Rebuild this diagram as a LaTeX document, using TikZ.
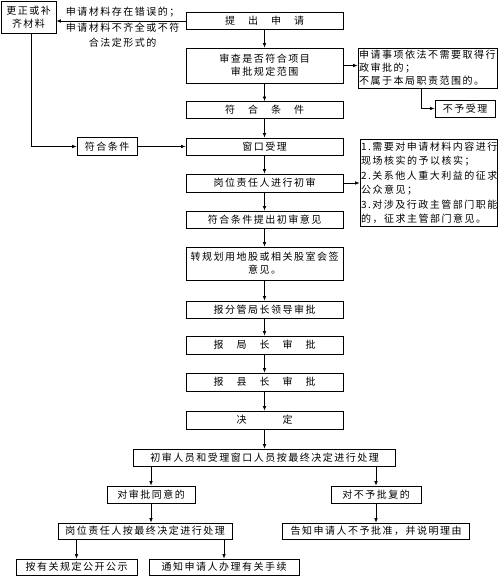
\documentclass[tikz,border=0pt]{standalone}
\usepackage{fontspec}
\usepackage{tikz}
\usetikzlibrary{arrows.meta}
\newfontfamily\cjk[LetterSpace=15]{Noto Sans CJK SC}

\begin{document}
\begin{tikzpicture}[x=1pt,y=-1pt,line width=.7pt,font=\cjk\fontsize{10}{13}\selectfont,
  box/.style={draw,inner sep=1pt,align=center},
  stage/.style={box,minimum width=157pt,minimum height=17pt},
  note/.style={draw,inner ysep=1pt,inner xsep=1pt,align=left},
  arr/.style={-{Latex[length=4.5pt,width=3.5pt]}}]
\useasboundingbox (0,0) rectangle (500,580);
\node[stage] (submit) at (264.5,21) {提　出　申　请};
\node[stage,minimum height=35pt] (review) at (264.5,65.5) {审查是否符合项目\\审批规定范围};
\node[stage] (meet) at (264.5,110) {符　合　条　件};
\node[stage] (window) at (264.5,146.5) {窗口受理};
\node[stage,minimum height=18pt] (firstrev) at (264.5,183) {岗位责任人进行初审};
\node[stage] (opinion) at (264.5,219.5) {符合条件提出初审意见};
\node[stage,minimum height=33pt] (cosign) at (264.5,263.5) {转规划用地股或相关股室会签\\意见。};
\node[stage] (deputy) at (264.5,309.5) {报分管局长领导审批};
\node[stage,minimum height=18pt] (director) at (264.5,345) {报　局　长　审　批};
\node[stage,minimum height=18pt] (county) at (264.5,382) {报　县　长　审　批};
\node[stage,minimum height=18pt] (decide) at (264.5,420) {决　　　定};
\node[box,minimum width=262pt,minimum height=17pt] (handle) at (264.5,457.5) {初审人员和受理窗口人员按最终决定进行处理};
\node[box,minimum width=88pt,minimum height=17pt] (agree) at (151,494.5) {对审批同意的};
\node[box,minimum width=90pt,minimum height=17pt] (refuse) at (376,494.5) {对不予批复的};
\node[box,minimum width=174pt,minimum height=16pt] (execute) at (145,531) {岗位责任人按最终决定进行处理};
\node[box,minimum width=187pt,minimum height=16pt] (tell) at (376,531) {告知申请人不予批准，并说明理由};
\node[box,minimum width=121pt,minimum height=16pt] (publish) at (76.5,567) {按有关规定公开公示};
\node[box,minimum width=150pt,minimum height=16pt] (procedure) at (224,567) {通知申请人办理有关手续};
\node[box,minimum width=55pt,minimum height=32pt] (correct) at (28.5,17) {更正或补\\齐材料};
\node[box,minimum width=60pt,minimum height=18pt] (meetL) at (107,146.5) {符合条件};
\node[anchor=south,inner sep=1pt] (errtop) at (122.5,18.5) {申请材料存在错误的；};
\node[anchor=north,inner sep=1pt,align=center,font=\cjk\fontsize{10}{15}\selectfont] (errbot) at (122.5,22) {申请材料不齐全或不符\\合法定形式的};
\node[note,text width=137pt,minimum height=40pt] (exempt) at (427.5,68) {申请事项依法不需要取得行\\政审批的；\\不属于本局职责范围的。};
\node[box,minimum width=60pt,minimum height=17pt] (refuse0) at (465,108.5) {不予受理};
\node[note,text width=135pt,minimum height=87pt,font=\cjk\fontsize{10}{14.5}\selectfont] (notes) at (428.5,183) {1.需要对申请材料内容进行\\现场核实的予以核实；\\2.关系他人重大利益的征求\\公众意见；\\3.对涉及行政主管部门职能\\的，征求主管部门意见。};
\foreach \a/\b in {submit/review,review/meet,meet/window,window/firstrev,firstrev/opinion,opinion/cosign,cosign/deputy,deputy/director,director/county,county/decide,decide/handle}
  \draw[arr] (\a) -- (\b);
\draw[arr] (submit.west) -- (submit.west -| correct.east);
\draw[arr] ([xshift=3pt]correct.south) |- (meetL.west);
\draw[arr] (meetL) -- (window);
\draw[arr] (review.east) -- (review.east -| exempt.west);
\draw[arr] ([xshift=-6.5pt]exempt.south) |- (refuse0.west);
\draw[arr] (firstrev) -- (notes);
\draw[arr] (handle.south -| agree.north) -- (agree);
\draw[arr] (handle.south -| refuse.north) -- (refuse);
\draw[arr] (agree.south) -- (agree.south |- execute.north);
\draw[arr] (execute.south -| publish.north) -- (publish);
\draw[arr] (execute.south -| procedure.north) -- (procedure);
\draw[arr] (refuse) -- (tell);
\end{tikzpicture}
\end{document}
